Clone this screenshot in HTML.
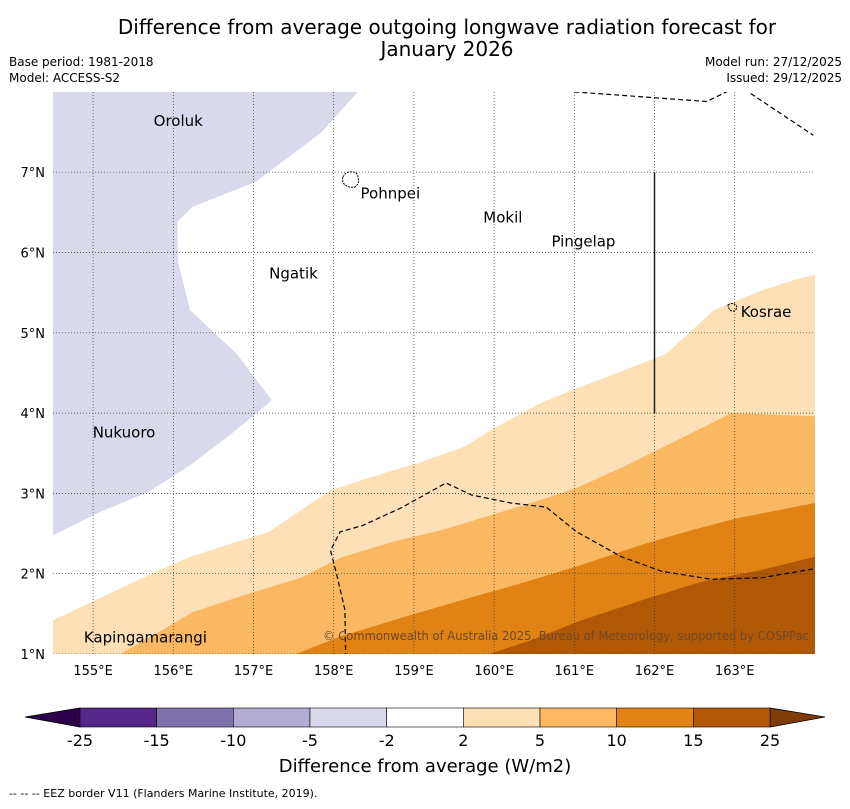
<!DOCTYPE html>
<html><head><meta charset="utf-8"><style>
body{margin:0;background:#fff;font-family:"Liberation Sans","DejaVu Sans",sans-serif;}
svg text{font-family:"DejaVu Sans","Liberation Sans",sans-serif;}
</style></head><body>
<svg id="c" width="850" height="804" xmlns="http://www.w3.org/2000/svg">
<text x="447" y="34" font-size="20" text-anchor="middle">Difference from average outgoing longwave radiation forecast for</text>
<text x="447" y="56" font-size="20" text-anchor="middle">January 2026</text>
<text x="9" y="66" font-size="12">Base period: 1981-2018</text>
<text x="9" y="82" font-size="12">Model: ACCESS-S2</text>
<text x="842" y="66" font-size="12" text-anchor="end">Model run: 27/12/2025</text>
<text x="842" y="82" font-size="12" text-anchor="end">Issued: 29/12/2025</text>
<defs><clipPath id="pc"><rect x="53" y="92" width="762" height="562"/></clipPath></defs>
<g id="plot" clip-path="url(#pc)"></g>
<g id="axes"></g>
<g id="cbar"></g>
<text x="9" y="797" font-size="11">--  --  -- EEZ border V11 (Flanders Marine Institute, 2019).</text>
</svg>
<script>
const lonTicks=[155,156,157,158,159,160,161,162,163];
const latTicks=[1,2,3,4,5,6,7];
const neg5Region=[[154.5,8],[158.3,8],[157.84,7.49],[157.03,6.88],[156.24,6.57],[156.05,6.38],[156.06,5.88],[156.21,5.28],[156.78,4.75],[157.23,4.16],[156.71,3.73],[156.21,3.35],[155.69,3.02],[155.09,2.77],[154.5,2.48]];
const band2=[[154.5,1.42],[155.09,1.70],[155.69,1.98],[156.21,2.21],[156.71,2.37],[157.19,2.52],[157.59,2.79],[157.96,3.04],[158.46,3.20],[159.09,3.39],[159.63,3.58],[159.96,3.79],[160.59,4.13],[161.03,4.31],[161.59,4.52],[162.15,4.74],[162.74,5.28],[163.34,5.53],[163.78,5.67],[164,5.72]];
const band5=[[155.34,1],[155.78,1.25],[156.24,1.52],[156.84,1.72],[157.59,1.95],[158.09,2.20],[158.71,2.39],[159.34,2.54],[159.96,2.73],[160.59,2.92],[161.03,3.07],[161.59,3.32],[162.24,3.64],[162.96,4.00],[164,3.96]];
const band10=[[157.53,1],[158.09,1.22],[158.84,1.45],[159.59,1.67],[160.34,1.88],[161.09,2.11],[161.84,2.36],[162.46,2.54],[163.03,2.69],[164,2.88]];
const band15=[[159.94,1],[160.46,1.17],[161.09,1.42],[161.84,1.67],[162.59,1.90],[163.34,2.05],[164,2.21]];
const eezMid=[[158.15,0.95],[158.14,1.55],[158.04,1.98],[157.96,2.29],[158.08,2.52],[158.36,2.6],[158.84,2.82],[159.4,3.13],[159.72,2.98],[160.21,2.88],[160.65,2.83],[161.03,2.52],[161.59,2.21],[162.09,2.03],[162.71,1.93],[163.34,1.95],[164.1,2.08]];
const eezTop=[[161.0,8.0],[162.65,7.88],[162.96,8.03]];
const eezTop2=[[163.2,7.98],[163.98,7.46]];
const islands=["Oroluk","Pohnpei","Mokil","Pingelap","Ngatik","Kosrae","Nukuoro","Kapingamarangi"];
const islandLon=[155.73,158.31,159.84,160.69,157.17,163.05,154.97,154.86];
const islandLat=[7.7,6.8,6.5,6.2,5.8,5.32,3.82,1.27];
const cbLabels=["-25","-15","-10","-5","-2","2","5","10","15","25"];
const cbColors=["#542788","#8073ac","#b2abd2","#d8daeb","#ffffff","#fee0b6","#fdb863","#e08214","#b35806"];
const X=l=>53+(l-154.5)*80.2, Y=a=>654-(a-1)*80.3;
const NS="http://www.w3.org/2000/svg";
function mk(p,t,a){const e=document.createElementNS(NS,t);for(const k in a)e.setAttribute(k,a[k]);p.appendChild(e);return e;}
const plot=document.getElementById('plot'),axes=document.getElementById('axes'),cb=document.getElementById('cbar');
const pts=a=>a.map(p=>X(p[0]).toFixed(1)+','+Y(p[1]).toFixed(1)).join(' ');
function band(arr,col,name){const poly=arr.concat([[164.1,arr[arr.length-1][1]],[164.1,0.9],[154.4,0.9],[154.4,arr[0][1]]]);
const e=mk(plot,'polygon',{points:pts(poly),fill:col});

}
let e=mk(plot,'polygon',{points:pts(neg5Region),fill:'#d8d9ea'});


band(band2,'#fde0b6','band-2-5');band(band5,'#fbb862','band-5-10');band(band10,'#e08214','band-10-15');band(band15,'#b05806','band-15-25');
lonTicks.forEach(l=>{const g=mk(plot,'line',{x1:X(l),x2:X(l),y1:80,y2:660,stroke:'#333','stroke-width':0.7,'stroke-dasharray':'1,2'});


const t=mk(axes,'text',{x:X(l),y:675,'font-size':13,'text-anchor':'middle'});t.textContent=l+'°E';

});
latTicks.forEach(a=>{const g=mk(plot,'line',{x1:50,x2:820,y1:Y(a),y2:Y(a),stroke:'#333','stroke-width':0.7,'stroke-dasharray':'1,2'});


const t=mk(axes,'text',{x:45,y:Y(a)+5,'font-size':13,'text-anchor':'end'});t.textContent=a+'°N';

});
[eezMid,eezTop,eezTop2].forEach(a=>{const l=mk(plot,'polyline',{points:pts(a),fill:'none',stroke:'#000','stroke-width':1.2,'stroke-dasharray':'5,3'});

});
e=mk(plot,'line',{x1:X(162),x2:X(162),y1:Y(7),y2:Y(4),stroke:'#222','stroke-width':1.5});


e=mk(plot,'path',{d:'M343,177 q3,-6 9,-5 q6,0 6,6 q2,5 -3,9 q-6,1 -10,-2 q-4,-4 -2,-8z',fill:'none',stroke:'#000','stroke-width':1,'stroke-dasharray':'2,1'});


e=mk(plot,'path',{d:'M728,305 q4,-3 8,0 q2,4 -2,6 q-5,1 -6,-6z',fill:'none',stroke:'#000','stroke-width':1,'stroke-dasharray':'2,1'});


islands.forEach((n,i)=>{const t=mk(plot,'text',{x:X(islandLon[i])+2,y:Y(islandLat[i])+10,'font-size':15});t.textContent=n;

});
e=mk(plot,'text',{x:323,y:640,'font-size':12,textLength:486,lengthAdjust:'spacingAndGlyphs',fill:'#6b4a2a'});e.textContent='© Commonwealth of Australia 2025, Bureau of Meteorology, supported by COSPPac';


const cx0=80,cw=690/cbColors.length;
e=mk(cb,'polygon',{points:'25,717 80,708 80,727',fill:'#2d004b',stroke:'#000','stroke-width':0.8});


e=mk(cb,'polygon',{points:'825,717 770,708 770,727',fill:'#7f3b08',stroke:'#000','stroke-width':0.8});


cbColors.forEach((c,i)=>{const r=mk(cb,'rect',{x:cx0+i*cw,y:708,width:cw,height:19,fill:c,stroke:'#000','stroke-width':0.6});

});
cbLabels.forEach((s,i)=>{const t=mk(cb,'text',{x:cx0+i*cw,y:746,'font-size':16,'text-anchor':'middle'});t.textContent=s;

});
e=mk(cb,'text',{x:425,y:772,'font-size':18,'text-anchor':'middle'});e.textContent='Difference from average (W/m2)';


</script>
</body></html>
